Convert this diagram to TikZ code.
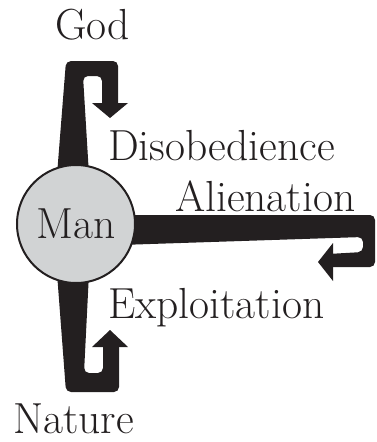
\documentclass[tikz,border=0pt]{standalone}
\usepackage{tikz}
\usetikzlibrary{backgrounds}

\definecolor{ink}{HTML}{231F20}
\definecolor{disc}{HTML}{D1D3D4}

\begin{document}
\begin{tikzpicture}[x=1pt, y=-1pt,
    word/.style = {inner sep=0pt, anchor=base west, text=ink, font=\fontsize{43.5}{50}\selectfont},
    hook/.style = {fill=ink, rounded corners=5pt},
    tip/.style  = {fill=ink}]
   \useasboundingbox (0,0) rectangle (377,442);
   \node[circle, draw=ink, line width=2pt, fill=disc, minimum size=118pt, inner sep=0pt,
         text=ink, font=\fontsize{43.5}{50}\selectfont] (man) at (76,224) {Man};
   \node[word] (god)     at (55,39)   {God};
   \node[word] (disob)   at (108,160) {Disobedience};
   \node[word] (alien)   at (175,211) {Alienation};
   \node[word] (exploit) at (108,318) {Exploitation};
   \node[word] (nature)  at (13,433)  {Nature};
   \begin{scope}[on background layer]
    % up to God and back
    \path[hook] (man.center) -- (57,175) -- (66,61) -- (118,61) -- (118,110)
       -- (102,110) -- (102,76) -- (83,76) -- (89,175) -- cycle;
    \path[tip] (92,103) -- (128,103) -- (110,118) -- cycle;
    % out to the neighbour and back
    \path[hook] (man.center) -- (120,215) -- (375,215) -- (375,267) -- (328,267)
       -- (328,254) -- (363,252) -- (363,237) -- (120,245) -- cycle;
    \path[tip] (333,243) -- (333,281) -- (318,262) -- cycle;
    % down to Nature and back
    \path[hook] (man.center) -- (57,273) -- (66,392) -- (119,392) -- (119,340)
       -- (103,340) -- (103,373) -- (84,373) -- (89,273) -- cycle;
    \path[tip] (92,347) -- (128,347) -- (110,330) -- cycle;
   \end{scope}
\end{tikzpicture}
\end{document}
